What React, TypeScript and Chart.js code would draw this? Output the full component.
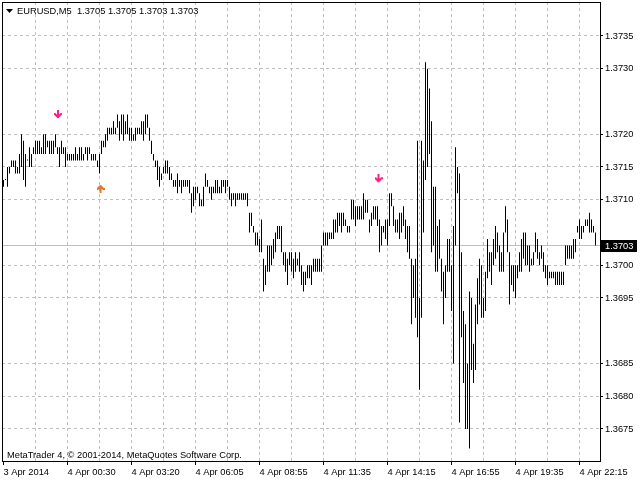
import React, { useEffect, useRef } from 'react';
import { Chart, registerables } from 'chart.js';

Chart.register(...registerables);

const symbolName = 'EURUSD,M5';
const lastOHLC = [1.3705, 1.3705, 1.3703, 1.3703];
const copyrightText = 'MetaTrader 4, \u00A9 2001-2014, MetaQuotes Software Corp.';
const xTickLabels = ['3 Apr 2014', '4 Apr 00:30', '4 Apr 03:20', '4 Apr 06:05', '4 Apr 08:55', '4 Apr 11:35', '4 Apr 14:15', '4 Apr 16:55', '4 Apr 19:35', '4 Apr 22:15'];
const yTickValues = [1.3735, 1.373, 1.372, 1.3715, 1.371, 1.37, 1.3695, 1.3685, 1.368, 1.3675];

const barHigh = [
  1.3713, 1.3713, 1.3715, 1.3715, 1.3716, 1.3716, 1.3716, 1.3715, 1.3717, 1.3720,
  1.3719, 1.3717, 1.3716, 1.3718, 1.3717, 1.3718, 1.3719, 1.3719, 1.3719, 1.3718,
  1.3720, 1.3720, 1.3719, 1.3719, 1.3719, 1.3719, 1.3720, 1.3718, 1.3718, 1.3719,
  1.3718, 1.3718, 1.3717, 1.3717, 1.3717, 1.3717, 1.3718, 1.3717, 1.3718, 1.3718,
  1.3717, 1.3718, 1.3718, 1.3718, 1.3717, 1.3717, 1.3717, 1.3716, 1.3717, 1.3719,
  1.3719, 1.3720, 1.3721, 1.3721, 1.3721, 1.3722, 1.3721, 1.3723, 1.3722, 1.3723,
  1.3723, 1.3722, 1.3723, 1.3721, 1.3721, 1.3720, 1.3721, 1.3721, 1.3721, 1.3722,
  1.3722, 1.3723, 1.3723, 1.3721, 1.3719, 1.3717, 1.3716, 1.3716, 1.3715, 1.3714,
  1.3715, 1.3716, 1.3716, 1.3715, 1.3714, 1.3713, 1.3713, 1.3714, 1.3713, 1.3713,
  1.3713, 1.3713, 1.3713, 1.3713, 1.3711, 1.3712, 1.3712, 1.3712, 1.3711, 1.3710,
  1.3712, 1.3714, 1.3713, 1.3712, 1.3712, 1.3712, 1.3713, 1.3713, 1.3712, 1.3713,
  1.3713, 1.3713, 1.3713, 1.3712, 1.3711, 1.3711, 1.3711, 1.3711, 1.3711, 1.3711,
  1.3711, 1.3711, 1.3711, 1.3708, 1.3708, 1.3706, 1.3705, 1.3705, 1.3704, 1.3707,
  1.3701, 1.3700, 1.3703, 1.3703, 1.3703, 1.3704, 1.3705, 1.3706, 1.3706, 1.3706,
  1.3702, 1.3702, 1.3701, 1.3702, 1.3702, 1.3701, 1.3702, 1.3701, 1.3702, 1.3700,
  1.3699, 1.3699, 1.3700, 1.3700, 1.3700, 1.3701, 1.3701, 1.3701, 1.3701, 1.3703,
  1.3705, 1.3705, 1.3705, 1.3705, 1.3705, 1.3707, 1.3707, 1.3708, 1.3708, 1.3708,
  1.3708, 1.3707, 1.3706, 1.3706, 1.3710, 1.3710, 1.3709, 1.3709, 1.3709, 1.3709,
  1.3711, 1.3710, 1.3710, 1.3707, 1.3708, 1.3709, 1.3709, 1.3709, 1.3707, 1.3706,
  1.3706, 1.3707, 1.3707, 1.3711, 1.3711, 1.3709, 1.3707, 1.3707, 1.3708, 1.3708,
  1.3709, 1.3707, 1.3706, 1.3706, 1.3701, 1.3700, 1.3701, 1.3719, 1.3695, 1.3719,
  1.3716, 1.3731, 1.3730, 1.3727, 1.3722, 1.3712, 1.3712, 1.3706, 1.3707, 1.3701,
  1.3699, 1.3700, 1.3704, 1.3704, 1.3700, 1.3706, 1.3718, 1.3715, 1.3714, 1.3702,
  1.3693, 1.3691, 1.3685, 1.3696, 1.3695, 1.3688, 1.3694, 1.3698, 1.3701, 1.3700,
  1.3695, 1.3699, 1.3704, 1.3702, 1.3702, 1.3704, 1.3706, 1.3705, 1.3703, 1.3702,
  1.3705, 1.3709, 1.3707, 1.3702, 1.3700, 1.3700, 1.3700, 1.3700, 1.3702, 1.3704,
  1.3705, 1.3705, 1.3703, 1.3703, 1.3701, 1.3702, 1.3705, 1.3704, 1.3702, 1.3703,
  1.3702, 1.3700, 1.3700, 1.3699, 1.3699, 1.3699, 1.3699, 1.3699, 1.3699, 1.3699,
  1.3699, 1.3703, 1.3703, 1.3703, 1.3703, 1.3704, 1.3704, 1.3706, 1.3707, 1.3706,
  1.3706, 1.3707, 1.3707, 1.3708, 1.3707, 1.3706, 1.3705,
];

const barLow = [
  1.3712, 1.3713, 1.3712, 1.3714, 1.3715, 1.3715, 1.3714, 1.3714, 1.3714, 1.3715,
  1.3713, 1.3712, 1.3716, 1.3715, 1.3715, 1.3717, 1.3717, 1.3717, 1.3717, 1.3717,
  1.3717, 1.3717, 1.3718, 1.3717, 1.3717, 1.3717, 1.3718, 1.3717, 1.3715, 1.3717,
  1.3717, 1.3715, 1.3716, 1.3716, 1.3716, 1.3716, 1.3716, 1.3716, 1.3716, 1.3716,
  1.3716, 1.3717, 1.3716, 1.3717, 1.3716, 1.3716, 1.3716, 1.3715, 1.3714, 1.3717,
  1.3718, 1.3718, 1.3719, 1.3720, 1.3720, 1.3720, 1.3720, 1.3721, 1.3719, 1.3720,
  1.3719, 1.3720, 1.3720, 1.3719, 1.3719, 1.3719, 1.3719, 1.3720, 1.3720, 1.3720,
  1.3719, 1.3720, 1.3721, 1.3719, 1.3717, 1.3716, 1.3715, 1.3713, 1.3712, 1.3713,
  1.3714, 1.3714, 1.3714, 1.3713, 1.3713, 1.3712, 1.3712, 1.3711, 1.3712, 1.3711,
  1.3712, 1.3712, 1.3712, 1.3711, 1.3708, 1.3709, 1.3710, 1.3711, 1.3709, 1.3709,
  1.3709, 1.3712, 1.3712, 1.3711, 1.3710, 1.3711, 1.3711, 1.3711, 1.3711, 1.3711,
  1.3712, 1.3711, 1.3712, 1.3710, 1.3709, 1.3710, 1.3709, 1.3710, 1.3710, 1.3710,
  1.3710, 1.3710, 1.3709, 1.3705, 1.3706, 1.3705, 1.3703, 1.3703, 1.3702, 1.3702,
  1.3696, 1.3697, 1.3699, 1.3699, 1.3700, 1.3701, 1.3702, 1.3704, 1.3704, 1.3702,
  1.3700, 1.3699, 1.3697, 1.3700, 1.3699, 1.3698, 1.3699, 1.3700, 1.3699, 1.3697,
  1.3696, 1.3697, 1.3698, 1.3698, 1.3697, 1.3699, 1.3699, 1.3699, 1.3699, 1.3699,
  1.3703, 1.3703, 1.3703, 1.3704, 1.3704, 1.3704, 1.3705, 1.3705, 1.3706, 1.3705,
  1.3706, 1.3706, 1.3705, 1.3705, 1.3707, 1.3707, 1.3706, 1.3707, 1.3707, 1.3707,
  1.3707, 1.3708, 1.3708, 1.3705, 1.3706, 1.3707, 1.3707, 1.3706, 1.3702, 1.3703,
  1.3705, 1.3704, 1.3703, 1.3706, 1.3709, 1.3706, 1.3705, 1.3705, 1.3704, 1.3705,
  1.3706, 1.3704, 1.3702, 1.3701, 1.3691, 1.3695, 1.3692, 1.3689, 1.3681, 1.3692,
  1.3705, 1.3713, 1.3715, 1.3717, 1.3702, 1.3703, 1.3699, 1.3699, 1.3701, 1.3696,
  1.3691, 1.3695, 1.3699, 1.3699, 1.3693, 1.3685, 1.3703, 1.3711, 1.3676, 1.3689,
  1.3682, 1.3675, 1.3675, 1.3672, 1.3684, 1.3682, 1.3684, 1.3691, 1.3694, 1.3692,
  1.3692, 1.3693, 1.3698, 1.3699, 1.3697, 1.3700, 1.3701, 1.3702, 1.3699, 1.3699,
  1.3699, 1.3705, 1.3702, 1.3694, 1.3697, 1.3696, 1.3695, 1.3698, 1.3699, 1.3699,
  1.3701, 1.3700, 1.3700, 1.3699, 1.3700, 1.3700, 1.3702, 1.3701, 1.3700, 1.3701,
  1.3699, 1.3698, 1.3697, 1.3698, 1.3698, 1.3698, 1.3697, 1.3697, 1.3697, 1.3697,
  1.3697, 1.3700, 1.3701, 1.3701, 1.3701, 1.3701, 1.3702, 1.3705, 1.3704, 1.3704,
  1.3705, 1.3706, 1.3706, 1.3705, 1.3705, 1.3705, 1.3703,
];

const downArrowBars = [27.25, 187.5];
const downArrowPrices = [1.3723, 1.37132];
const upArrowBars = [48.5];
const upArrowPrices = [1.37117];

const FONT_FAMILY = '"Liberation Sans", Arial, sans-serif';
const FONT_SIZE = 9.3;
const GRID_COLOR = '#c0c0c0';
const BARS_PER_GRID = 16;
const BARS_PER_LABEL = 32;

function makeArrow(color: string, down: boolean): HTMLCanvasElement {
  const c = document.createElement('canvas');
  c.width = 8;
  c.height = 9;
  const g = c.getContext('2d')!;
  g.fillStyle = color;
  const px = (x: number, y: number, w: number, h: number) => {
    const yy = down ? y : c.height - y - h;
    g.fillRect(x, yy, w, h);
  };
  px(3, 0, 2, 7);
  px(0, 3, 2, 1);
  px(6, 3, 2, 1);
  px(0, 4, 3, 1);
  px(5, 4, 3, 1);
  px(1, 5, 6, 1);
  px(2, 6, 4, 1);
  px(3, 7, 2, 1);
  return c;
}

export default function App() {
  const canvasRef = useRef<HTMLCanvasElement | null>(null);

  useEffect(() => {
    const canvas = canvasRef.current;
    if (!canvas) return;

    const downImg = makeArrow('#ff1e8c', true);
    const upImg = makeArrow('#e2762b', false);

    const bars = barHigh.map((h, i) => ({ x: i, y: [barLow[i], h] }));
    const gridValues: number[] = [];
    for (let v = 0; v < barHigh.length; v += BARS_PER_GRID) gridValues.push(v);

    const font = { family: FONT_FAMILY, size: FONT_SIZE };

    const overlay = {
      id: 'mt4overlay',
      beforeDatasetsDraw(chart: any) {
        const { ctx, chartArea: a, scales } = chart;
        const py = Math.round(scales.y.getPixelForValue(lastOHLC[3]) - 0.5) + 0.5;
        ctx.save();
        ctx.strokeStyle = GRID_COLOR;
        ctx.lineWidth = 1;
        ctx.beginPath();
        ctx.moveTo(a.left, py);
        ctx.lineTo(a.right, py);
        ctx.stroke();
        ctx.restore();
      },
      afterDraw(chart: any) {
        const { ctx, chartArea: a, scales } = chart;
        ctx.save();
        ctx.strokeStyle = '#000';
        ctx.lineWidth = 1;
        ctx.strokeRect(a.left + 0.5, a.top + 0.5, a.right - a.left, a.bottom - a.top);

        ctx.font = `${FONT_SIZE}px ${FONT_FAMILY}`;
        ctx.fillStyle = '#000';
        ctx.textBaseline = 'middle';
        ctx.textAlign = 'left';
        ctx.beginPath();
        ctx.moveTo(a.left + 4, a.top + 7);
        ctx.lineTo(a.left + 11, a.top + 7);
        ctx.lineTo(a.left + 7.5, a.top + 11);
        ctx.closePath();
        ctx.fill();
        const header = symbolName + '  ' + lastOHLC.map((v) => v.toFixed(4)).join(' ');
        ctx.fillText(header, a.left + 15, a.top + 9.5);
        ctx.fillText(copyrightText, a.left + 5, a.bottom - 6);

        const py = Math.round(scales.y.getPixelForValue(lastOHLC[3]) - 0.5);
        ctx.fillStyle = '#000';
        ctx.fillRect(a.right + 1, py - 5, 36, 12);
        ctx.fillStyle = '#fff';
        ctx.fillText(lastOHLC[3].toFixed(4), a.right + 5, py + 1);
        ctx.restore();
      },
    };

    const chart = new Chart(canvas, {
      type: 'bar',
      data: {
        datasets: [
          {
            type: 'line',
            data: downArrowBars.map((x, i) => ({ x, y: downArrowPrices[i] })),
            showLine: false,
            pointStyle: downImg as any,
            pointRadius: 5,
            order: 0,
          } as any,
          {
            type: 'line',
            data: upArrowBars.map((x, i) => ({ x, y: upArrowPrices[i] })),
            showLine: false,
            pointStyle: upImg as any,
            pointRadius: 5,
            order: 0,
          } as any,
          {
            type: 'bar',
            data: bars as any,
            backgroundColor: '#000',
            borderWidth: 0,
            barThickness: 1,
            minBarLength: 1,
            inflateAmount: 0,
            order: 1,
          } as any,
        ],
      },
      options: {
        animation: false,
        responsive: false,
        devicePixelRatio: 1,
        events: [],
        layout: { autoPadding: false, padding: { left: 2, top: 2, right: 0, bottom: 0 } },
        plugins: {
          legend: { display: false },
          tooltip: { enabled: false },
        },
        scales: {
          x: {
            type: 'linear',
            bounds: 'data',
            min: -0.75,
            max: 298.25,
            offset: false,
            grid: {
              offset: false,
              lineWidth: 1,
              color: (c: any) => (c.tick && c.tick.value === 0 ? 'rgba(0,0,0,0)' : GRID_COLOR),
              tickLength: 4,
              tickColor: (c: any) => (c.tick && c.tick.value % BARS_PER_LABEL === 0 ? '#000' : 'rgba(0,0,0,0)'),
            },
            border: { display: false, dash: [3, 3] },
            ticks: {
              autoSkip: false,
              maxRotation: 0,
              minRotation: 0,
              align: 'start',
              padding: 2,
              color: '#000',
              font,
              callback: (v: any) => {
                const n = Number(v);
                return n % BARS_PER_LABEL === 0 ? xTickLabels[n / BARS_PER_LABEL] ?? '' : '';
              },
            },
            afterBuildTicks: (s: any) => {
              s.ticks = gridValues.map((v) => ({ value: v }));
            },
            afterFit: (s: any) => {
              s.height = 19;
              s.paddingLeft = 0;
              s.paddingRight = 0;
            },
          } as any,
          y: {
            type: 'linear',
            position: 'right',
            bounds: 'data',
            min: 1.367011,
            max: 1.374019,
            grid: {
              color: GRID_COLOR,
              lineWidth: 1,
              tickLength: 3,
              tickColor: '#000',
            },
            border: { display: false, dash: [3, 3] },
            ticks: {
              padding: 2,
              color: '#000',
              font,
              callback: (v: any) => Number(v).toFixed(4),
            },
            afterBuildTicks: (s: any) => {
              s.ticks = yTickValues.map((v) => ({ value: v }));
            },
            afterFit: (s: any) => {
              s.width = 40;
              s.paddingTop = 0;
              s.paddingBottom = 0;
            },
          } as any,
        },
      },
      plugins: [overlay],
    });

    return () => {
      chart.destroy();
    };
  }, []);

  return (
    <div style={{ position: 'fixed', left: 0, top: 0, width: 640, height: 480, background: '#fff' }}>
      <canvas ref={canvasRef} width={640} height={480} style={{ display: 'block' }} />
    </div>
  );
}
